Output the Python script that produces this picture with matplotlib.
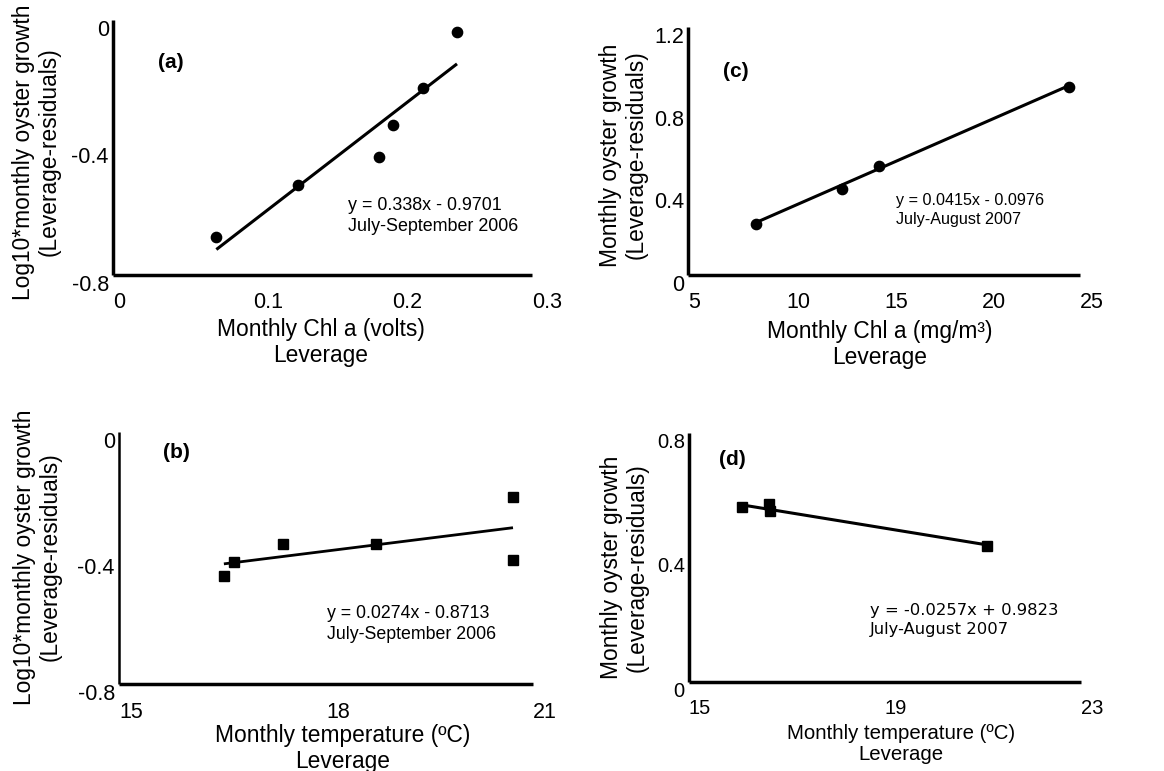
import numpy as np
import matplotlib
matplotlib.use("Agg")
import matplotlib.pyplot as plt

plt.rcParams['font.family'] = ['Liberation Sans', 'DejaVu Sans']
plt.rcParams['axes.unicode_minus'] = False

# (a) Chl a (volts) vs log10 growth, Jul-Sep 2006
chl_v = [0.074, 0.1325, 0.1905, 0.2005, 0.222, 0.2463]
log_growth_chl = [-0.681, -0.518, -0.430, -0.329, -0.213, -0.038]
fit_a = (0.338, -0.9701)   # x of the equation is in tenths of a volt

# (b) temperature vs log10 growth, Jul-Sep 2006
temp_06 = [16.52, 16.67, 17.38, 18.72, 20.71, 20.71]
log_growth_temp = [-0.457, -0.412, -0.357, -0.356, -0.206, -0.406]
fit_b = (0.0274, -0.8713)

# (c) Chl a (mg/m3) vs growth, Jul-Aug 2007
chl_mg = [8.47, 12.86, 14.74, 24.44]
growth_chl = [0.247, 0.416, 0.527, 0.910]
fit_c = (0.0415, -0.0976)

# (d) temperature vs growth, Jul-Aug 2007
temp_07 = [16.08, 16.64, 16.66, 21.09]
growth_temp = [0.562, 0.571, 0.551, 0.438]
fit_d = (-0.0257, 0.9823)

W, H = 1164, 771
fig = plt.figure(figsize=(W / 100, H / 100), dpi=100)


def make_axes(left, right, top, bottom, spine_w=2.5):
    ax = fig.add_axes([left / W, (H - bottom) / H, (right - left) / W, (bottom - top) / H])
    for s in ('top', 'right'):
        ax.spines[s].set_visible(False)
    for s in ('left', 'bottom'):
        ax.spines[s].set_linewidth(spine_w)
        ax.spines[s].set_capstyle('butt')
    ax.tick_params(length=0)
    ax.tick_params(axis='x', pad=12)
    ax.tick_params(axis='y', pad=3)
    ax.patch.set_visible(False)
    return ax


def set_ticks(ax, xt, xl, yt, yl, size=15.5):
    ax.set_xticks(xt)
    ax.set_xticklabels(xl, fontsize=size, ha='left')
    ax.set_yticks(yt)
    ax.set_yticklabels(yl, fontsize=size, va='top')


def labels(ax, xlab, xpos, ylab, ypos, xsize=16.4, ysize=16.4):
    ax.set_xlabel(xlab, fontsize=xsize, linespacing=1.15)
    ax.xaxis.set_label_coords(*xpos)
    ax.xaxis.label.set_va('center')
    ax.set_ylabel(ylab, fontsize=ysize, linespacing=1.15)
    ax.yaxis.set_label_coords(*ypos)
    ax.yaxis.label.set_va('center')


# panel (a)
ax = make_axes(113, 532, 20, 275)
ax.set_xlim(0, 0.3)
ax.set_ylim(-0.8, 0)
xs = np.array([min(chl_v), max(chl_v)])
ax.plot(xs, fit_a[0] * 10 * xs + fit_a[1], color='black', lw=2.2, solid_capstyle='butt')
ax.plot(chl_v, log_growth_chl, 'o', color='black', ms=7.4)
set_ticks(ax, [0, 0.1, 0.2, 0.3], ['0', '0.1', '0.2', '0.3'],
          [-0.8, -0.4, 0], ['-0.8', '-0.4', '0'])
labels(ax, 'Monthly Chl a (volts)\nLeverage', (0.496, -0.265),
       'Log10*monthly oyster growth\n(Leverage-residuals)', (-0.183, 0.482))
ax.text(0.107, 0.835, '(a)', transform=ax.transAxes, fontsize=15, fontweight='bold', va='center')
ax.text(0.561, 0.231, 'y = 0.338x - 0.9701\nJuly-September 2006', transform=ax.transAxes,
        fontsize=12.9, va='center', linespacing=1.25)

# panel (b)
ax = make_axes(119, 533, 432, 684)
ax.spines['left'].set_linewidth(1.8)
ax.set_xlim(15, 21)
ax.set_ylim(-0.8, 0)
xs = np.array([min(temp_06), max(temp_06)])
ax.plot(xs, fit_b[0] * xs + fit_b[1], color='black', lw=2.0, solid_capstyle='butt')
ax.plot(temp_06, log_growth_temp, 's', color='black', ms=7.6)
set_ticks(ax, [15, 18, 21], ['15', '18', '21'],
          [-0.8, -0.4, 0], ['-0.8', '-0.4', '0'])
ax.tick_params(axis='x', pad=13)
labels(ax, 'Monthly temperature (ºC)\nLeverage', (0.541, -0.256),
       'Log10*monthly oyster growth\n(Leverage-residuals)', (-0.198, 0.504))
ax.text(0.106, 0.917, '(b)', transform=ax.transAxes, fontsize=15, fontweight='bold', va='center')
ax.text(0.502, 0.238, 'y = 0.0274x - 0.8713\nJuly-September 2006', transform=ax.transAxes,
        fontsize=12.8, va='center', linespacing=1.25)

# panel (c)
ax = make_axes(688, 1080, 27, 275)
ax.set_xlim(5, 25)
ax.set_ylim(0, 1.2)
xs = np.array([min(chl_mg), max(chl_mg)])
ax.plot(xs, fit_c[0] * xs + fit_c[1], color='black', lw=2.2, solid_capstyle='butt')
ax.plot(chl_mg, growth_chl, 'o', color='black', ms=7.4)
set_ticks(ax, [5, 10, 15, 20, 25], ['5', '10', '15', '20', '25'],
          [0, 0.4, 0.8, 1.2], ['0', '0.4', '0.8', '1.2'])
labels(ax, 'Monthly Chl a (mg/m³)\nLeverage', (0.49, -0.28),
       'Monthly oyster growth\n(Leverage-residuals)', (-0.165, 0.484))
ax.text(0.089, 0.819, '(c)', transform=ax.transAxes, fontsize=15, fontweight='bold', va='center')
ax.text(0.531, 0.262, 'y = 0.0415x - 0.0976\nJuly-August 2007', transform=ax.transAxes,
        fontsize=11.6, va='center', linespacing=1.3)

# panel (d)
ax = make_axes(689, 1081, 433, 682)
ax.set_xlim(15, 23)
ax.set_ylim(0, 0.8)
xs = np.array([min(temp_07), max(temp_07)])
ax.plot(xs, fit_d[0] * xs + fit_d[1], color='black', lw=2.2, solid_capstyle='butt')
ax.plot(temp_07, growth_temp, 's', color='black', ms=7.6)
set_ticks(ax, [15, 19, 23], ['15', '19', '23'],
          [0, 0.4, 0.8], ['0', '0.4', '0.8'], size=14.5)
labels(ax, 'Monthly temperature (ºC)\nLeverage', (0.541, -0.25),
       'Monthly oyster growth\n(Leverage-residuals)', (-0.165, 0.46), xsize=14.7)
ax.text(0.077, 0.892, '(d)', transform=ax.transAxes, fontsize=15, fontweight='bold', va='center')
ax.text(0.462, 0.249, 'y = -0.0257x + 0.9823\nJuly-August 2007', transform=ax.transAxes,
        fontsize=11.8, va='center', linespacing=1.3, family='DejaVu Sans')

fig.savefig('out.png', dpi=100)
